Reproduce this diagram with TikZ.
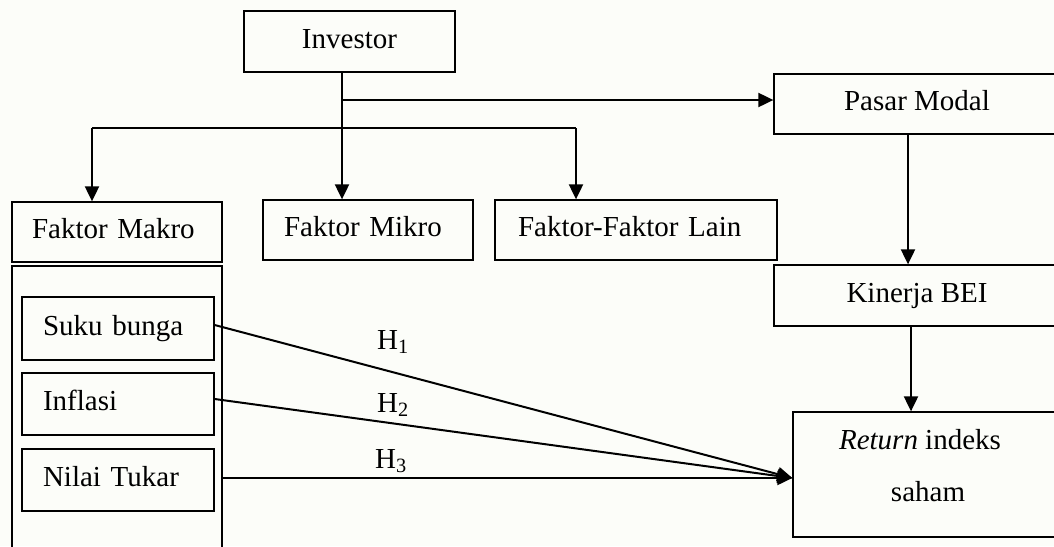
\documentclass[tikz,border=0pt]{standalone}
\usepackage{fontspec}
\setmainfont{Liberation Serif}
\usetikzlibrary{arrows.meta,calc}
\definecolor{bgc}{RGB}{252,253,249}
\tikzset{
  box/.style={draw, line width=1.3pt, inner sep=0pt, font=\fontsize{29}{35}\selectfont,
              text height=20pt, text depth=7pt},
  lbox/.style={box, align=left},
  txt/.style={inner sep=0pt, font=\fontsize{29}{35}\selectfont},
  arr/.style={line width=2pt, -{Triangle[length=15pt,width=14pt]}},
  ln/.style={line width=2pt},
}
\begin{document}
\begin{tikzpicture}[x=1pt,y=-1pt]
\fill[bgc] (0,0) rectangle (1054,546);
\useasboundingbox (0,0) rectangle (1054,546);
% boxes
\node[box, minimum width=211pt, minimum height=61pt] (investor) at (349.5,41.5) {Investor};
\node[box, minimum width=286pt, minimum height=60pt] (pasar) at (917,104) {Pasar Modal};
\node[box, minimum width=286pt, minimum height=61pt] (kinerja) at (917,295.5) {Kinerja BEI};
\node[box, minimum width=265pt, minimum height=125pt] (ret) at (925.5,474.5) {};
\node[txt, anchor=base] (ret1) at (920,449) {\textit{Return} indeks};
\node[txt, anchor=base] (ret2) at (928,501) {saham};
\node[lbox, text width=170pt, inner xsep=20pt, minimum height=60pt] (makro) at (117,232) {Faktor Makro};
\node[lbox, text width=168pt, inner xsep=21pt, minimum height=60pt] (mikro) at (368,230) {Faktor Mikro};
\node[lbox, text width=236pt, inner xsep=23pt, minimum height=60pt] (lain) at (636,230) {Faktor-Faktor Lain};
\node[box, minimum width=210pt, minimum height=294pt] (makrobox) at (117,413) {};
\node[lbox, text width=150pt, inner xsep=21pt, minimum height=63pt] (suku) at (118,328.5) {Suku bunga};
\node[lbox, text width=150pt, inner xsep=21pt, minimum height=62pt] (inflasi) at (118,404) {Inflasi};
\node[lbox, text width=150pt, inner xsep=21pt, minimum height=62pt] (nilai) at (118,480) {Nilai Tukar};
% junctions
\coordinate (j1) at (342,100);
\coordinate (j2) at (342,128);
\coordinate (jl) at (92,128);
\coordinate (jr) at (576,128);
% investor connectors
\draw[arr] (investor.south -| j1) -- (j1 |- mikro.north);
\draw[arr] (j1) -- (j1 -| pasar.west);
\draw[ln] (jl) -- (jr);
\draw[arr] (jl) -- (jl |- makro.north);
\draw[arr] (jr) -- (jr |- lain.north);
% right column
\draw[arr] ([xshift=-9pt]pasar.south) -- ([xshift=-9pt]pasar.south |- kinerja.north);
\draw[arr] ([xshift=-6pt]kinerja.south) -- ([xshift=-6pt]kinerja.south |- ret.north);
% hypotheses (canvas yshift: positive = up)
\coordinate (tip) at ([yshift=-3.5pt]ret.west);
\draw[arr] ([yshift=3.5pt]suku.east) -- (tip);
\draw[arr] ([yshift=5pt]inflasi.east) -- (tip);
\draw[arr] (makrobox.east |- tip) -- (tip);
\node[txt, anchor=base west] (h1) at (377,349) {H\textsubscript{1}};
\node[txt, anchor=base west] (h2) at (377,412) {H\textsubscript{2}};
\node[txt, anchor=base west] (h3) at (375,468) {H\textsubscript{3}};
\end{tikzpicture}
\end{document}
